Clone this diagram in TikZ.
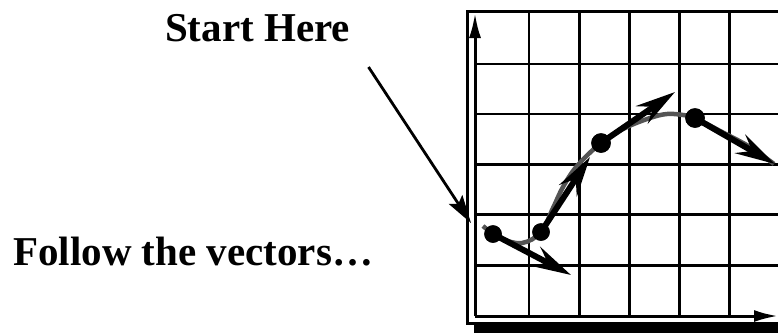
\documentclass[tikz,border=0pt]{standalone}
\usepackage{fontspec}
\setmainfont{Liberation Serif}
\usetikzlibrary{arrows.meta}
\begin{document}
\begin{tikzpicture}[x=1pt,y=-1pt,
  gridline/.style={line width=2.8pt},
  axisline/.style={line width=3pt},
  vec/.style={line width=6pt,-{Stealth[length=40pt,width=21pt,inset=14pt]}},
  dot/.style={circle,fill=black,inner sep=0pt,minimum size=19.5pt},
  smalldot/.style={dot,minimum size=17.5pt},
  lbl/.style={font=\fontsize{41}{45}\selectfont\bfseries,anchor=base west,inner sep=0pt},
  curve/.style={line width=4.5pt,draw=black!67}]
\useasboundingbox (0,0) rectangle (778,333);
\node[lbl] (start) at (165,41) {Start Here};
\node[lbl] (follow) at (13,265) {Follow the vectors…};
\begin{scope}
  \clip (0,0) rectangle (778,333);
  % shadow and frame
  \fill (474,20) rectangle (800,333);
  \filldraw[fill=white,line width=3pt] (467.5,11.5) rectangle (790,323.5);
  % grid
  \foreach \gx in {529,579.5,629.7,679.7,729.7}
    \draw[gridline] (\gx,12) -- (\gx,316);
  \foreach \gy in {64,114,164.5,214.7,265.5}
    \draw[gridline] (475,\gy) -- (778,\gy);
  % axes
  \coordinate (origin) at (475,316);
  \coordinate (ytip) at (475,13);
  \coordinate (xtip) at (778,316);
  \draw[axisline,-{Latex[length=25pt,width=12pt]}] (origin) -- (ytip);
  \draw[axisline,-{Latex[length=24pt,width=12pt]}] (origin) -- (xtip);
  % curve
  \draw[curve] plot[smooth,tension=0.6] coordinates {(483,226) (500,238) (522,243) (541,232) (553,208) (563,187) (577,166) (601,143) (625,128) (650,118) (667,114) (683,115) (695,118) (722,132) (750,147) (774,164)};
  % dots
  \node[smalldot] (p1) at (493,234) {};
  \node[smalldot] (p2) at (541,232) {};
  \node[dot] (p3) at (601,143) {};
  \node[dot] (p4) at (695,118) {};
  \coordinate (v1) at (571,275);
  \coordinate (v2) at (590,157);
  \coordinate (v3) at (675,92);
  \coordinate (v4) at (775,164);
  \draw[vec] (p1.center) -- (v1);
  \draw[vec] (p2.center) -- (v2);
  \draw[vec] (p3.center) -- (v3);
  \draw[vec] (p4.center) -- (v4);
  \node[smalldot] at (p1) {};
  \node[smalldot] at (p2) {};
  \node[dot] at (p3) {};
  \node[dot] at (p4) {};
  % start arrow
  \coordinate (sfrom) at (368.5,67);
  \coordinate (sto) at (471,223);
  \draw[line width=2.8pt,-{Stealth[length=28pt,width=16pt,inset=5pt]}] (sfrom) -- (sto);
\end{scope}
\end{tikzpicture}
\end{document}
